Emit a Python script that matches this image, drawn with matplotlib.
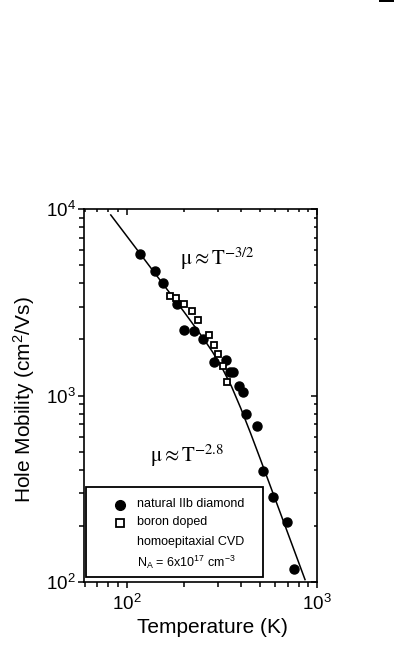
import matplotlib
matplotlib.use("Agg")
import matplotlib.pyplot as plt
from matplotlib.lines import Line2D
from matplotlib.patches import Rectangle
from matplotlib.ticker import LogLocator, NullFormatter

plt.rcParams['font.family'] = ['Liberation Sans', 'DejaVu Sans']
plt.rcParams['mathtext.fontset'] = 'custom'
plt.rcParams['mathtext.rm'] = 'Liberation Sans'
plt.rcParams['mathtext.it'] = 'Liberation Sans:italic'
plt.rcParams['mathtext.bf'] = 'Liberation Sans:bold'

# natural IIb diamond (filled circles)
nat_T = [117, 140, 156, 184, 200, 225, 251, 287, 334, 348, 362, 391, 407, 425, 482, 520, 587, 694, 758]
nat_mu = [5713, 4667, 4000, 3082, 2244, 2220, 2005, 1517, 1555, 1330, 1343, 1125, 1045, 796, 690, 396, 285, 210, 117]

# boron doped homoepitaxial CVD (open squares)
cvd_T = [169, 181, 200, 221, 238, 270, 287, 302, 321, 336]
cvd_mu = [3420, 3323, 3082, 2851, 2540, 2118, 1866, 1666, 1435, 1186]

# fitted curve
fit_T = [82.4, 100, 125.9, 158.5, 199.5, 251.2, 281.8, 316.2, 354.8, 398.1, 446.7, 501.2, 631, 865]
fit_mu = [9290, 7160, 5250, 3846, 2818, 2042, 1718, 1413, 1122, 851, 631, 462, 245.5, 103]

W, H = 394, 655
L, R, T, B = 84, 317, 209, 582
fig = plt.figure(figsize=(W / 100, H / 100), dpi=100)
ax = fig.add_axes([L / W, (H - B) / H, (R - L) / W, (B - T) / H])

ax.plot(fit_T, fit_mu, color='black', lw=1.1, zorder=2)
ax.plot(nat_T, nat_mu, 'o', color='black', ms=6.5, zorder=3, clip_on=False)
ax.plot(cvd_T, cvd_mu, 's', mfc='white', mec='black', mew=1.3, ms=5, zorder=4)

xlim = (59.6, 1000)
ylim = (100, 10000)
ax.set_xscale('log')
ax.set_yscale('log')
ax.set_xlim(*xlim)
ax.set_ylim(*ylim)

def setup_locators(a):
    a.xaxis.set_minor_locator(LogLocator(base=10, subs=range(2, 10)))
    a.yaxis.set_minor_locator(LogLocator(base=10, subs=range(2, 10)))
    a.xaxis.set_minor_formatter(NullFormatter())
    a.yaxis.set_minor_formatter(NullFormatter())

setup_locators(ax)
ax.tick_params(which='both', direction='out', top=False, right=False, color='black', width=1.1)
ax.tick_params(which='major', length=4.5, labelsize=13.5, pad=4)
ax.tick_params(which='minor', length=3.5)
ax.tick_params(axis='y', which='major', pad=1.5)
for s in ax.spines.values():
    s.set_linewidth(1.2)

# inward ticks on top and right
axr = ax.twinx()
axr.set_yscale('log')
axr.set_ylim(*ylim)
axt = ax.twiny()
axt.set_xscale('log')
axt.set_xlim(*xlim)
for a in (axr, axt):
    setup_locators(a)
    for s in a.spines.values():
        s.set_visible(False)
axr.tick_params(which='both', axis='y', direction='in', width=1.1, labelright=False, right=True)
axr.tick_params(which='major', axis='y', length=4)
axr.tick_params(which='minor', axis='y', length=2.5)
axt.tick_params(which='both', axis='x', direction='in', width=1.1, labeltop=False, top=True)
axt.tick_params(which='major', axis='x', length=4)
axt.tick_params(which='minor', axis='x', length=2.5)

ax.set_xlabel('Temperature (K)', fontsize=15)
ax.xaxis.set_label_coords((212 - L) / (R - L), (B - 618) / (B - T))
ax.set_ylabel('Hole Mobility (cm$^2$/Vs)', fontsize=15)
ax.yaxis.set_label_coords((37 - L) / (R - L), 0.49)

ax.text(0.412, 0.85, r'$\mathrm{\mu} \approx \mathrm{T}^{-3/2}$', transform=ax.transAxes,
        fontsize=15, math_fontfamily='stix', ha='left', va='baseline')
ax.text(0.283, 0.322, r'$\mathrm{\mu} \approx \mathrm{T}^{-2.8}$', transform=ax.transAxes,
        fontsize=15, math_fontfamily='stix', ha='left', va='baseline')

def fx(px):
    return (px - L) / (R - L)

def fy(py):
    return (B - py) / (B - T)

# legend box drawn by hand
ax.add_patch(Rectangle((fx(86), fy(577)), fx(263) - fx(86), fy(487) - fy(577), transform=ax.transAxes,
                       facecolor='white', edgecolor='black', lw=1.3, zorder=5))
ax.add_line(Line2D([fx(120)], [fy(505)], transform=ax.transAxes, marker='o', color='black', ms=7,
                   ls='none', zorder=6))
ax.add_line(Line2D([fx(120)], [fy(523)], transform=ax.transAxes, marker='s', mfc='white', mec='black',
                   mew=1.3, ms=5.5, ls='none', zorder=6))
lx = fx(137)
ax.text(lx, fy(504), 'natural IIb diamond', transform=ax.transAxes, fontsize=9, va='center', zorder=6)
ax.text(lx, fy(522), 'boron doped', transform=ax.transAxes, fontsize=9, va='center', zorder=6)
ax.text(lx, fy(542), 'homoepitaxial CVD', transform=ax.transAxes, fontsize=9, va='center', zorder=6)
ax.text(lx, fy(562), r'N$_\mathrm{A}$ = 6x10$^{17}$ cm$^{-3}$', transform=ax.transAxes, fontsize=9,
        va='center', zorder=6)

# small mark at top right of the page
fig.add_artist(Rectangle((379 / W, 1 - 2 / H), 15 / W, 2 / H, transform=fig.transFigure,
                         facecolor='black', edgecolor='none'))

fig.savefig('out.png', dpi=100)
